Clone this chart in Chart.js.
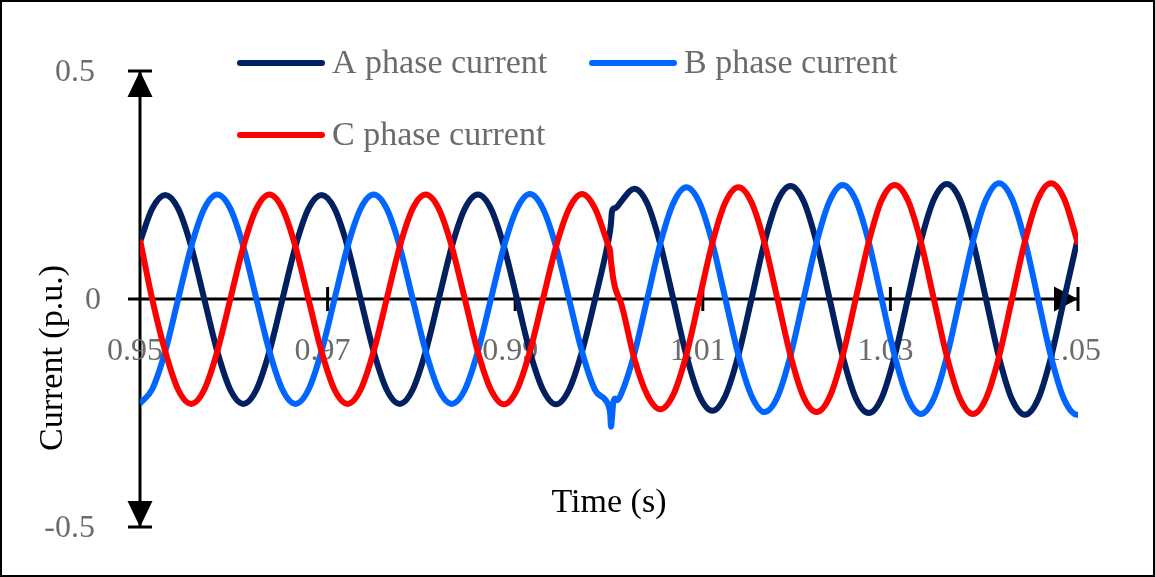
<!DOCTYPE html>
<html>
<head>
<meta charset="utf-8">
<script src="https://cdn.jsdelivr.net/npm/chart.js@4"></script>
<style>
  body { margin: 0; background: #fff; }
  canvas { display: block; }
</style>
</head>
<body>
<canvas id="myChart" width="1155" height="577"></canvas>
<script>
// sample times (s), the extra points just after 1.000 s cover the switching transient
const time = [
  0.95,
  0.95130, 0.95269, 0.95407, 0.95546, 0.95685, 0.95824, 0.95963, 0.96102, 0.96241, 0.96380, 0.96519, 0.96657,
  0.96796, 0.96935, 0.97074, 0.97213, 0.97352, 0.97491, 0.97630, 0.97769, 0.97907, 0.98046, 0.98185, 0.98324,
  0.98463, 0.98602, 0.98741, 0.98880, 0.99019, 0.99157, 0.99296, 0.99435, 0.99574, 0.99713, 0.99852, 0.99991,
  1.00012, 1.00022, 1.00030, 1.00045, 1.00065, 1.00090,
  1.00130, 1.00269, 1.00407, 1.00546, 1.00685, 1.00824, 1.00963, 1.01102, 1.01241, 1.01380, 1.01519, 1.01657,
  1.01796, 1.01935, 1.02074, 1.02213, 1.02352, 1.02491, 1.02630, 1.02769, 1.02907, 1.03046, 1.03185, 1.03324,
  1.03463, 1.03602, 1.03741, 1.03880, 1.04019, 1.04157, 1.04296, 1.04435, 1.04574, 1.04713, 1.04852, 1.04991,
  1.05
];

const phaseA = [
  0.125,
  0.198, 0.228, 0.198, 0.115, 0, -0.115, -0.199, -0.230, -0.199, -0.115, 0, 0.115,
  0.198, 0.228, 0.198, 0.115, 0, -0.115, -0.199, -0.230, -0.199, -0.115, 0, 0.115,
  0.198, 0.229, 0.198, 0.115, 0, -0.116, -0.199, -0.231, -0.199, -0.115, 0, 0.125,
  0.150, 0.168, 0.190, 0.198, 0.199, 0.203,
  0.214, 0.242, 0.210, 0.121, 0, -0.123, -0.212, -0.245, -0.212, -0.123, 0, 0.124,
  0.215, 0.248, 0.215, 0.124, 0, -0.125, -0.217, -0.250, -0.217, -0.125, 0, 0.126,
  0.218, 0.252, 0.218, 0.126, 0, -0.127, -0.220, -0.254, -0.220, -0.127, 0, 0.127,
  0.135
];

const phaseB = [
  -0.229,
  -0.198, -0.115, 0, 0.115, 0.198, 0.229, 0.198, 0.115, 0, -0.115, -0.199, -0.230,
  -0.199, -0.115, 0, 0.115, 0.198, 0.229, 0.198, 0.115, 0, -0.115, -0.199, -0.230,
  -0.199, -0.115, 0, 0.115, 0.198, 0.230, 0.198, 0.115, 0, -0.116, -0.200, -0.232,
  -0.250, -0.280, -0.265, -0.228, -0.218, -0.222,
  -0.208, -0.121, 0, 0.121, 0.210, 0.245, 0.212, 0.123, 0, -0.123, -0.212, -0.248,
  -0.215, -0.124, 0, 0.124, 0.215, 0.250, 0.217, 0.125, 0, -0.125, -0.217, -0.252,
  -0.218, -0.126, 0, 0.126, 0.218, 0.254, 0.220, 0.127, 0, -0.127, -0.220, -0.254,
  -0.254
];

const phaseC = [
  0.130,
  0, -0.115, -0.199, -0.230, -0.199, -0.115, 0, 0.115, 0.198, 0.229, 0.198, 0.115,
  0, -0.115, -0.199, -0.230, -0.199, -0.115, 0, 0.115, 0.198, 0.229, 0.198, 0.115,
  0, -0.116, -0.199, -0.231, -0.199, -0.115, 0, 0.115, 0.198, 0.230, 0.198, 0.118,
  0.105, 0.080, 0.068, 0.045, 0.025, 0.010,
  -0.010, -0.130, -0.210, -0.242, -0.210, -0.123, 0, 0.123, 0.212, 0.245, 0.212, 0.124,
  0, -0.124, -0.215, -0.248, -0.215, -0.125, 0, 0.125, 0.217, 0.250, 0.217, 0.126,
  0, -0.126, -0.218, -0.252, -0.218, -0.127, 0, 0.127, 0.220, 0.254, 0.220, 0.127,
  0.120
];

const seriesNames = ["A phase current", "B phase current", "C phase current"];
const seriesColors = ["#002060", "#0066ff", "#ff0000"];

const xTicks = [0.95, 0.97, 0.99, 1.01, 1.03, 1.05];
const xTickLabels = ["0.95", "0.97", "0.99", "1.01", "1.03", "1.05"];
const yTicks = [0.5, 0, -0.5];
const yTickLabels = ["0.5", "0", "-0.5"];

const xTitle = "Time (s)";
const yTitle = "Current (p.u.)";

const serif = '"Liberation Serif", "Times New Roman", serif';
const labelGray = "#6b6b6b";

const toPoints = (values) => values.map((v, i) => ({ x: time[i], y: v }));

// arrow axes through the origin, drawn under the curves
const arrowAxes = {
  id: "arrowAxes",
  beforeDatasetsDraw(chart) {
    const ctx = chart.ctx;
    const xs = chart.scales.x;
    const ys = chart.scales.y;
    const x0 = xs.getPixelForValue(xs.min);
    const x1 = xs.getPixelForValue(xs.max);
    const yTop = ys.getPixelForValue(ys.max);
    const yBot = ys.getPixelForValue(ys.min);
    const y0 = ys.getPixelForValue(0);
    const tick = 12;

    ctx.save();
    ctx.strokeStyle = "#000";
    ctx.fillStyle = "#000";
    ctx.lineWidth = 3;

    ctx.beginPath();
    ctx.moveTo(x0 - tick, y0);
    ctx.lineTo(x1, y0);
    ctx.moveTo(x0, yTop);
    ctx.lineTo(x0, yBot);
    xTicks.forEach((t) => {
      const px = xs.getPixelForValue(t);
      ctx.moveTo(px, y0 - tick);
      ctx.lineTo(px, y0 + tick);
    });
    yTicks.forEach((t) => {
      const py = ys.getPixelForValue(t);
      ctx.moveTo(x0 - tick, py);
      ctx.lineTo(x0 + tick, py);
    });
    ctx.stroke();

    // arrow heads
    ctx.beginPath();
    ctx.moveTo(x0, yTop);
    ctx.lineTo(x0 - 12.5, yTop + 26);
    ctx.lineTo(x0 + 12.5, yTop + 26);
    ctx.closePath();
    ctx.moveTo(x0, yBot);
    ctx.lineTo(x0 - 12.5, yBot - 26);
    ctx.lineTo(x0 + 12.5, yBot - 26);
    ctx.closePath();
    ctx.moveTo(x1, y0);
    ctx.lineTo(x1 - 24, y0 - 12.5);
    ctx.lineTo(x1 - 24, y0 + 12.5);
    ctx.closePath();
    ctx.fill();

    // tick labels
    ctx.font = "32px " + serif;
    ctx.fillStyle = labelGray;
    ctx.textAlign = "center";
    ctx.textBaseline = "middle";
    xTicks.forEach((t, i) => {
      ctx.fillText(xTickLabels[i], xs.getPixelForValue(t) - 5, y0 + 53);
    });
    ctx.textAlign = "right";
    yTicks.forEach((t, i) => {
      const shift = t === 0 ? 6 : 0;
      ctx.fillText(yTickLabels[i], x0 - 45 + shift, ys.getPixelForValue(t) + 2);
    });

    // axis titles
    ctx.font = "34px " + serif;
    ctx.fillStyle = "#000";
    ctx.textAlign = "center";
    ctx.textBaseline = "alphabetic";
    ctx.fillText(xTitle, (x0 + x1) / 2, 512);
    ctx.save();
    ctx.translate(62, (yTop + yBot) / 2 + 59);
    ctx.rotate(-Math.PI / 2);
    ctx.fillText(yTitle, 0, 0);
    ctx.restore();
    ctx.restore();
  },
  afterDraw(chart) {
    const ctx = chart.ctx;
    const cols = [240, 592];
    const rows = [63, 135];
    ctx.save();
    ctx.font = "34px " + serif;
    ctx.textAlign = "left";
    ctx.textBaseline = "middle";
    ctx.lineCap = "round";
    ctx.lineWidth = 6;
    seriesNames.forEach((name, i) => {
      const lx = cols[i % 2];
      const ly = rows[Math.floor(i / 2)];
      ctx.strokeStyle = seriesColors[i];
      ctx.beginPath();
      ctx.moveTo(lx, ly);
      ctx.lineTo(lx + 82, ly);
      ctx.stroke();
      ctx.fillStyle = labelGray;
      ctx.fillText(name, lx + 92, ly + 1);
    });
    // frame round the whole figure
    ctx.strokeStyle = "#000";
    ctx.lineWidth = 2;
    ctx.strokeRect(1, 1, chart.width - 2, chart.height - 2);
    ctx.restore();
  },
};

const datasets = [phaseA, phaseB, phaseC].map((values, i) => ({
  label: seriesNames[i],
  data: toPoints(values),
  borderColor: seriesColors[i],
  backgroundColor: seriesColors[i],
  borderWidth: 6,
  pointRadius: 0,
  cubicInterpolationMode: "monotone",
  order: 3 - i,
}));

const ctx = document.getElementById("myChart").getContext("2d");
const myChart = new Chart(ctx, {
  type: "line",
  data: { datasets: datasets },
  options: {
    responsive: false,
    animation: false,
    layout: { padding: { left: 140, right: 77, top: 71, bottom: 50 } },
    scales: {
      x: { type: "linear", min: 0.95, max: 1.05, display: false },
      y: { min: -0.5, max: 0.5, display: false },
    },
    plugins: {
      legend: { display: false },
      tooltip: { enabled: false },
    },
  },
  plugins: [arrowAxes],
});
</script>
</body>
</html>
